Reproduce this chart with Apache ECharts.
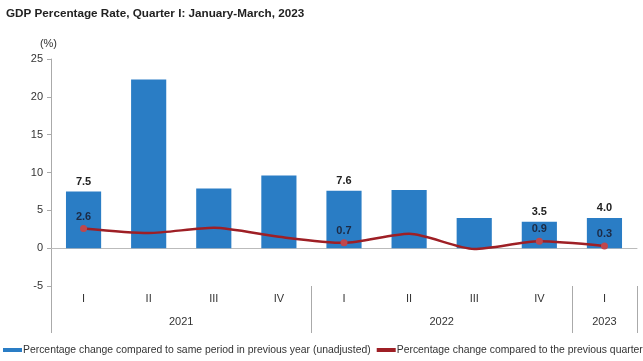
<!DOCTYPE html>
<html>
<head>
<meta charset="utf-8">
<script src="https://cdn.jsdelivr.net/npm/echarts@6/dist/echarts.min.js"></script>
<style>
html,body{margin:0;padding:0;background:#fff;}
#chart{width:643px;height:361px;}
</style>
</head>
<body>
<div id="chart"></div>
<script>
var quarters = ['I', 'II', 'III', 'IV', 'I', 'II', 'III', 'IV', 'I'];
var yearLabels = ['2021', '2022', '2023'];
var yearCenters = [2, 6, 8.5];
var yearBoundaries = [0.001, 4, 8, 9];
var annualChange = [7.5, 22.3, 7.9, 9.6, 7.6, 7.7, 4.0, 3.5, 4.0];
var quarterlyChange = [2.6, 2.0, 2.7, 1.5, 0.7, 1.9, -0.1, 0.9, 0.3];
var labeledBars = [0, 4, 7, 8];
var labeledPoints = [0, 4, 7, 8];

var font = 'Liberation Sans, Arial, sans-serif';
var chart = echarts.init(document.getElementById('chart'));

var barData = annualChange.map(function (v, i) {
  return {
    value: v,
    label: { show: labeledBars.indexOf(i) >= 0 }
  };
});
var lineData = quarterlyChange.map(function (v, i) {
  var on = labeledPoints.indexOf(i) >= 0;
  return {
    value: v,
    symbolSize: on ? 7 : 0,
    label: { show: on }
  };
});

chart.setOption({
  animation: false,
  backgroundColor: '#fff',
  title: {
    text: 'GDP Percentage Rate, Quarter I: January-March, 2023',
    left: 1, top: 3,
    textStyle: { fontFamily: font, fontSize: 11.7, fontWeight: 'bold', color: '#222' }
  },
  legend: {
    left: 1, bottom: 4, width: 643, padding: 2,
    itemGap: 6,
    itemWidth: 19, itemHeight: 4,
    textStyle: { fontFamily: font, fontSize: 10.4, color: '#333', padding: [0, 0, 0, -4] },
    data: [
      { name: 'Percentage change compared to same period in previous year (unadjusted)', icon: 'rect' },
      { name: 'Percentage change compared to the previous quarter', icon: 'rect', itemStyle: { color: '#9e1f25' } }
    ]
  },
  grid: { left: 51, right: 6, top: 59, bottom: 75 },
  xAxis: [
    {
      type: 'category', data: quarters,
      axisLine: { onZero: true, lineStyle: { color: '#bbb', width: 1 } },
      axisTick: { show: false },
      axisLabel: { show: false }
    },
    {
      type: 'category', data: quarters, position: 'bottom',
      axisLine: { show: false, onZero: false },
      axisTick: { show: false },
      axisLabel: { margin: 7, fontFamily: font, fontSize: 11, color: '#333' }
    },
    {
      type: 'value', min: 0, max: 9, position: 'bottom',
      axisLine: { show: false, onZero: false },
      splitLine: { show: false },
      axisTick: { show: true, customValues: yearBoundaries, length: 47, lineStyle: { color: '#aaa' } },
      axisLabel: {
        customValues: yearCenters, margin: 30,
        fontFamily: font, fontSize: 11, color: '#333',
        formatter: function (v) {
          var i = yearCenters.indexOf(v);
          return i >= 0 ? yearLabels[i] : '';
        }
      }
    }
  ],
  yAxis: {
    type: 'value', min: -5, max: 25, interval: 5,
    name: '(%)', nameGap: 10,
    nameTextStyle: { fontFamily: font, fontSize: 11, color: '#333', align: 'right', padding: [0, -6, 0, 0] },
    axisLine: { show: true, lineStyle: { color: '#aaa' } },
    axisTick: { show: true, length: 4, lineStyle: { color: '#aaa' } },
    splitLine: { show: false },
    axisLabel: { margin: 8, fontFamily: font, fontSize: 11, color: '#333' }
  },
  series: [
    {
      name: 'Percentage change compared to same period in previous year (unadjusted)',
      type: 'bar', xAxisIndex: 0, data: barData,
      barWidth: '54%',
      itemStyle: { color: '#2a7dc5' },
      label: {
        position: 'top', distance: 4,
        fontFamily: font, fontSize: 11, fontWeight: 'bold', color: '#222',
        formatter: function (p) { return p.value.toFixed(1); }
      }
    },
    {
      name: 'Percentage change compared to the previous quarter',
      type: 'line', xAxisIndex: 0, data: lineData,
      smooth: 0.25,
      symbol: 'circle',
      lineStyle: { color: '#9e1f25', width: 2.5 },
      itemStyle: { color: '#c0474c' },
      label: {
        position: 'top', distance: 3,
        fontFamily: font, fontSize: 11, fontWeight: 'bold', color: '#1c2a44',
        formatter: function (p) { return p.value.toFixed(1); }
      }
    }
  ]
});
</script>
</body>
</html>
